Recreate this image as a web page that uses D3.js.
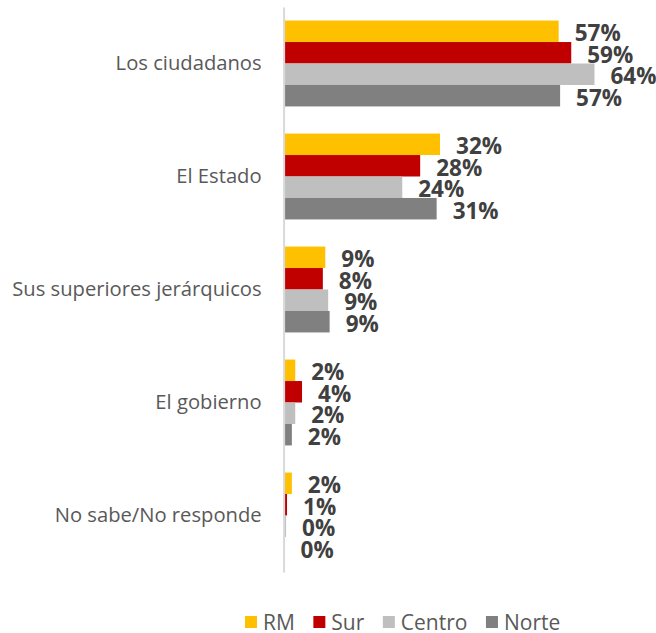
<!DOCTYPE html>
<html>
<head>
<meta charset="utf-8">
<script src="https://cdn.jsdelivr.net/npm/d3@7"></script>
<style>
  html, body { margin: 0; padding: 0; background: #fff; }
  svg { display: block; }
</style>
</head>
<body>
<svg id="chart" width="656" height="633"></svg>
<script>
const categories = ["Los ciudadanos", "El Estado", "Sus superiores jerárquicos", "El gobierno", "No sabe/No responde"];
const seriesNames = ["RM", "Sur", "Centro", "Norte"];
const seriesColors = ["#FFC000", "#C00000", "#BFBFBF", "#808080"];
// bar values (percent, as drawn)
const valuesRM     = [56.6, 32.1, 8.4, 2.2, 1.5];
const valuesSur    = [59.2, 28.0, 7.9, 3.6, 0.5];
const valuesCentro = [64.0, 24.3, 9.0, 2.2, 0.3];
const valuesNorte  = [56.9, 31.4, 9.3, 1.5, 0.0];
// data label texts (percent, as printed)
const labelsRM     = [57, 32, 9, 2, 2];
const labelsSur    = [59, 28, 8, 4, 1];
const labelsCentro = [64, 24, 9, 2, 0];
const labelsNorte  = [57, 31, 9, 2, 0];

const allValues = [valuesRM, valuesSur, valuesCentro, valuesNorte];
const allLabels = [labelsRM, labelsSur, labelsCentro, labelsNorte];

const data = [];
categories.forEach((c, i) => {
  seriesNames.forEach((s, j) => {
    data.push({ cat: c, series: s, value: allValues[j][i], label: allLabels[j][i], color: seriesColors[j] });
  });
});

const svg = d3.select("#chart");
const axisX = 283.6;

const x = d3.scaleLinear().domain([0, 100]).range([284.6, 284.6 + 484.2]);
const y = d3.scaleBand().domain(categories).range([7, 572]).paddingInner(0.24).paddingOuter(0.12);
const ySub = d3.scaleBand().domain(seriesNames).range([0, y.bandwidth()]).padding(0);

// bars
svg.append("g").selectAll("rect").data(data).join("rect")
  .attr("x", x(0))
  .attr("y", d => y(d.cat) + ySub(d.series))
  .attr("width", d => Math.max(0, x(d.value) - x(0)))
  .attr("height", ySub.bandwidth())
  .attr("fill", d => d.color);

// axis
const axis = d3.axisLeft(y).tickSize(0).tickSizeOuter(0).tickPadding(22);
const ag = svg.append("g").attr("transform", `translate(${axisX},0)`).call(axis);
ag.select(".domain").attr("stroke", "#D9D9D9").attr("stroke-width", 2);
ag.selectAll(".tick text")
  .attr("fill", "#595959")
  .style("font-family", "'Open Sans', sans-serif")
  .style("font-size", "20.2px");

// data labels
svg.append("g").selectAll("text").data(data).join("text")
  .attr("x", d => x(d.value) + 16)
  .attr("y", d => y(d.cat) + ySub(d.series) + ySub.bandwidth() / 2 + 1.5)
  .attr("dominant-baseline", "central")
  .attr("fill", "#404040")
  .style("font-family", "'Open Sans', sans-serif")
  .style("font-weight", "bold")
  .style("font-size", "22.5px")
  .text(d => d.label + "%");

// legend
const lg = svg.append("g");
let lx = 245;
seriesNames.forEach((s, j) => {
  lg.append("rect").attr("x", lx).attr("y", 616).attr("width", 12).attr("height", 12).attr("fill", seriesColors[j]);
  const t = lg.append("text")
    .attr("x", lx + 18).attr("y", 621.5)
    .attr("dominant-baseline", "central")
    .attr("fill", "#595959")
    .style("font-family", "'Open Sans', sans-serif")
    .style("font-size", "21px")
    .text(s);
  lx += 18 + t.node().getComputedTextLength() + 18.5;
});
</script>
</body>
</html>
